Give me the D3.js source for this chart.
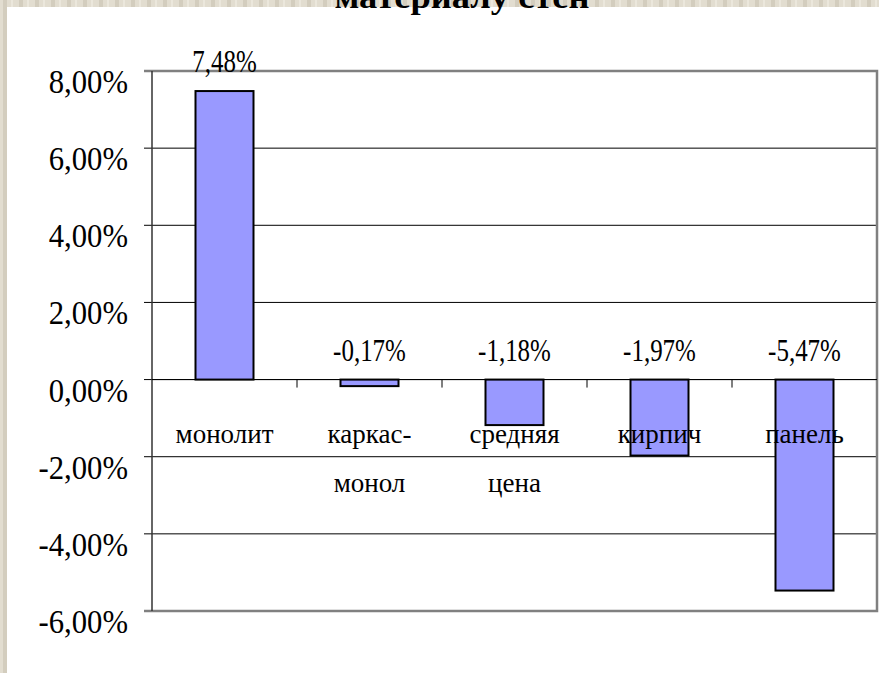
<!DOCTYPE html>
<html lang="ru">
<head>
  <meta charset="UTF-8">
  <title>материалу стен</title>
  <script src="https://d3js.org/d3.v7.min.js"></script>
  <style>
    body {
      margin: 0;
      background: #dcd7ca;
    }
    svg {
      display: block;
    }
    svg text {
      font-family: "Liberation Serif", "Times New Roman", serif;
    }
  </style>
</head>
<body>
  <div id="chart"></div>

  <script>
    // данные
    const categories = ["монолит", "каркас-монол", "средняя цена", "кирпич", "панель"];
    const categoryLines = [["монолит"], ["каркас-", "монол"], ["средняя", "цена"], ["кирпич"], ["панель"]];
    const values = [7.48, -0.17, -1.18, -1.97, -5.47];
    const yTicks = [-6, -4, -2, 0, 2, 4, 6, 8];
    const titleText = "материалу стен";

    const width = 879;
    const height = 673;
    const plot = { left: 152, right: 877, top: 71, bottom: 611 };

    // формат "7,48%" с обычным дефисом вместо минуса
    const pct = v => (v < 0 ? "-" : "") + Math.abs(v).toFixed(2).replace(".", ",") + "%";

    const svg = d3.select("#chart").append("svg")
      .attr("width", width)
      .attr("height", height);

    // фон с полосами
    const defs = svg.append("defs");
    const pat = defs.append("pattern")
      .attr("id", "tex")
      .attr("width", 16).attr("height", 16)
      .attr("patternUnits", "userSpaceOnUse");
    pat.append("rect").attr("width", 16).attr("height", 16).attr("fill", "#e2ddd0");
    pat.append("rect").attr("x", 3).attr("width", 4).attr("height", 16).attr("fill", "#d3cdbe");
    pat.append("rect").attr("x", 11).attr("width", 2).attr("height", 16).attr("fill", "#ebe7dc");

    svg.append("rect").attr("width", width).attr("height", height).attr("fill", "url(#tex)");
    svg.append("rect")
      .attr("x", 7).attr("y", 7)
      .attr("width", width - 7).attr("height", height - 7)
      .attr("fill", "#ffffff");

    // заголовок (видна только нижняя часть)
    svg.append("text")
      .attr("x", 462).attr("y", 8)
      .attr("text-anchor", "middle")
      .attr("font-weight", "bold")
      .attr("font-size", 34)
      .attr("textLength", 255)
      .attr("lengthAdjust", "spacingAndGlyphs")
      .text(titleText);

    const y = d3.scaleLinear().domain([-6, 8]).range([plot.bottom, plot.top]);
    const x = d3.scaleBand().domain(categories)
      .range([plot.left, plot.right])
      .paddingInner(0.6).paddingOuter(0.3);
    const xs = d3.scaleBand().domain(categories).range([plot.left, plot.right]);

    // сетка
    svg.append("g").selectAll("line")
      .data(yTicks.filter(v => v > -6 && v < 8))
      .join("line")
      .attr("x1", plot.left).attr("x2", plot.right)
      .attr("y1", d => y(d)).attr("y2", d => y(d))
      .attr("stroke", "#000").attr("stroke-width", 1);

    // деления оси Y
    svg.append("g").selectAll("line")
      .data(yTicks)
      .join("line")
      .attr("x1", plot.left - 8).attr("x2", plot.left)
      .attr("y1", d => y(d)).attr("y2", d => y(d))
      .attr("stroke", d => (d === 8 || d === -6) ? "#808080" : "#000")
      .attr("stroke-width", 1);

    // подписи оси Y
    svg.append("g").selectAll("text")
      .data(yTicks)
      .join("text")
      .attr("transform", d => `translate(128, ${y(d) + 22}) scale(0.93, 1)`)
      .attr("text-anchor", "end")
      .attr("font-size", 33)
      .attr("fill", "#000")
      .text(pct);

    // рамка области построения
    svg.append("path")
      .attr("d", `M${plot.left - 8},${plot.top}H${plot.right}V${plot.bottom}H${plot.left - 8}`)
      .attr("fill", "none")
      .attr("stroke", "#808080")
      .attr("stroke-width", 2.5);
    svg.append("line")
      .attr("x1", plot.left).attr("x2", plot.left)
      .attr("y1", plot.top).attr("y2", plot.bottom)
      .attr("stroke", "#333").attr("stroke-width", 1.5);

    // столбцы
    svg.append("g").selectAll("rect")
      .data(values)
      .join("rect")
      .attr("x", (d, i) => x(categories[i]))
      .attr("width", x.bandwidth())
      .attr("y", d => y(Math.max(0, d)))
      .attr("height", d => Math.abs(y(d) - y(0)))
      .attr("fill", "#9999ff")
      .attr("stroke", "#000")
      .attr("stroke-width", 2);

    // ось X (линия нуля с делениями)
    svg.append("line")
      .attr("x1", plot.left).attr("x2", plot.right)
      .attr("y1", y(0)).attr("y2", y(0))
      .attr("stroke", "#000").attr("stroke-width", 1);
    svg.append("g").selectAll("line")
      .data(categories.slice(1))
      .join("line")
      .attr("x1", d => xs(d)).attr("x2", d => xs(d))
      .attr("y1", y(0)).attr("y2", y(0) + 8)
      .attr("stroke", "#000").attr("stroke-width", 1);

    // подписи категорий
    const cat = svg.append("g").selectAll("text")
      .data(categoryLines)
      .join("text")
      .attr("text-anchor", "middle")
      .attr("font-size", 27)
      .attr("fill", "#000");
    cat.selectAll("tspan")
      .data((d, i) => d.map(t => ({ t, i })))
      .join("tspan")
      .attr("x", d => x(categories[d.i]) + x.bandwidth() / 2)
      .attr("y", (d, j) => y(0) + 63 + j * 49)
      .text(d => d.t);

    // подписи значений
    svg.append("g").selectAll("text")
      .data(values)
      .join("text")
      .attr("transform", (d, i) =>
        `translate(${x(categories[i]) + x.bandwidth() / 2}, ${y(Math.max(0, d)) - 19}) scale(0.78, 1)`)
      .attr("text-anchor", "middle")
      .attr("font-size", 32)
      .attr("fill", "#000")
      .text(pct);
  </script>
</body>
</html>
